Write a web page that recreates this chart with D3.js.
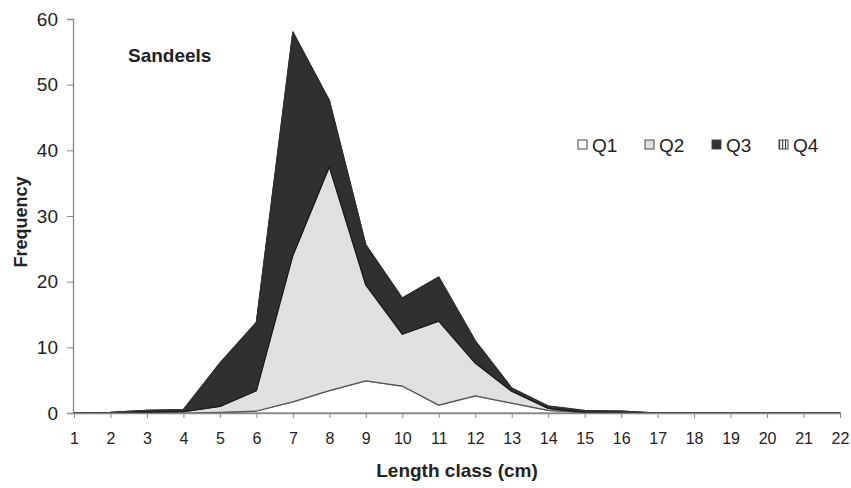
<!DOCTYPE html>
<html>
<head>
<meta charset="utf-8">
<script src="https://cdn.jsdelivr.net/npm/d3@7"></script>
<style>
  body { margin: 0; background: #fff; }
  svg { display: block; }
</style>
</head>
<body>
<svg id="chart" width="851" height="488"></svg>
<script>
// length classes (cm)
const lengthClass = d3.range(1, 23);
// frequencies per quarter
const q1 = [0, 0, 0, 0, 0.1, 0.3, 1.7, 3.4, 4.9, 4.1, 1.2, 2.6, 1.5, 0.4, 0.1, 0, 0, 0, 0, 0, 0, 0];
const q2 = [0, 0, 0.1, 0.2, 0.9, 3.1, 22.3, 34.1, 14.6, 7.9, 12.8, 5.0, 1.8, 0.3, 0, 0, 0, 0, 0, 0, 0, 0];
const q3 = [0, 0.1, 0.3, 0.3, 6.6, 10.4, 34, 10.1, 6.1, 5.5, 6.7, 3.4, 0.5, 0.3, 0.2, 0.3, 0, 0, 0, 0, 0, 0];
const q4 = [0, 0, 0, 0, 0, 0, 0, 0, 0, 0, 0, 0, 0, 0.1, 0.1, 0, 0, 0, 0, 0, 0, 0];
const seriesNames = ["Q1", "Q2", "Q3", "Q4"];
const yTicks = [0, 10, 20, 30, 40, 50, 60];

const rows = lengthClass.map((c, i) => ({ len: c, Q1: q1[i], Q2: q2[i], Q3: q3[i], Q4: q4[i] }));

const svg = d3.select("#chart");
const font = "Liberation Sans, Arial, sans-serif";

const defs = svg.append("defs");
const pat = defs.append("pattern")
  .attr("id", "vstripe")
  .attr("patternUnits", "userSpaceOnUse")
  .attr("width", 3).attr("height", 3);
pat.append("rect").attr("width", 3).attr("height", 3).attr("fill", "#fff");
pat.append("rect").attr("width", 1.2).attr("height", 3).attr("fill", "#444");

const fills = { Q1: "#ffffff", Q2: "#e0e0e0", Q3: "#303030", Q4: "url(#vstripe)" };
const strokes = { Q1: "#6a6a6a", Q2: "#555", Q3: "#1a1a1a", Q4: "#333" };

const x = d3.scaleLinear().domain([1, 22]).range([74, 840]);
const y = d3.scaleLinear().domain([0, 60]).range([413, 19]);

const stack = d3.stack().keys(seriesNames);
const layers = stack(rows);

const area = d3.area()
  .x(d => x(d.data.len))
  .y0(d => y(d[0]))
  .y1(d => y(d[1]));

svg.append("g")
  .selectAll("path")
  .data(layers)
  .join("path")
  .attr("d", area)
  .attr("fill", d => fills[d.key])
  .attr("stroke", d => strokes[d.key])
  .attr("stroke-width", 1.2)
  .attr("stroke-linejoin", "round");

// y axis
const yAxis = d3.axisLeft(y).tickValues(yTicks).tickSize(6).tickPadding(9);
const gy = svg.append("g")
  .attr("transform", `translate(${x(1) - 1},0)`)
  .call(yAxis);
gy.select(".domain").attr("stroke", "#888").attr("stroke-width", 1.3);
gy.selectAll(".tick line").attr("stroke", "#888");
gy.selectAll("text")
  .attr("font-family", font)
  .attr("font-size", 19)
  .attr("fill", "#222");

// x axis
const xAxis = d3.axisBottom(x).tickValues(lengthClass).tickSize(5).tickPadding(15).tickSizeOuter(0);
const gx = svg.append("g")
  .attr("transform", `translate(0,${y(0)})`)
  .call(xAxis);
gx.select(".domain").attr("stroke", "#888").attr("stroke-width", 1.3);
gx.selectAll(".tick line").attr("stroke", "#888");
gx.selectAll("text")
  .attr("font-family", font)
  .attr("font-size", 16)
  .attr("fill", "#222");

// labels
svg.append("text")
  .attr("x", 128).attr("y", 62)
  .attr("font-family", font)
  .attr("font-weight", "bold")
  .attr("font-size", 19)
  .attr("fill", "#222")
  .text("Sandeels");

svg.append("text")
  .attr("transform", "translate(27,222) rotate(-90)")
  .attr("text-anchor", "middle")
  .attr("font-family", font)
  .attr("font-weight", "bold")
  .attr("font-size", 18)
  .attr("fill", "#222")
  .text("Frequency");

svg.append("text")
  .attr("x", 457).attr("y", 477)
  .attr("text-anchor", "middle")
  .attr("font-family", font)
  .attr("font-weight", "bold")
  .attr("font-size", 19)
  .attr("fill", "#222")
  .text("Length class (cm)");

// legend
const legend = svg.append("g").attr("transform", "translate(578,145)");
const item = legend.selectAll("g")
  .data(seriesNames)
  .join("g")
  .attr("transform", (d, i) => `translate(${i * 67},0)`);
item.append("rect")
  .attr("x", 0).attr("y", -5)
  .attr("width", 9).attr("height", 9)
  .attr("fill", d => fills[d])
  .attr("stroke", "#444")
  .attr("stroke-width", 1);
item.append("text")
  .attr("x", 14).attr("y", 6.5)
  .attr("font-family", font)
  .attr("font-size", 19)
  .attr("fill", "#222")
  .text(d => d);
</script>
</body>
</html>
